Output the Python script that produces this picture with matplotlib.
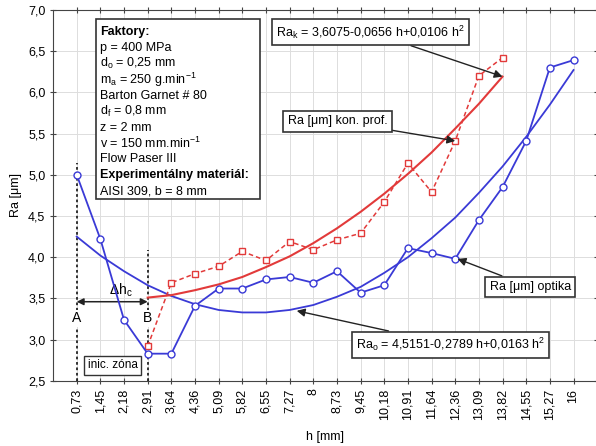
import matplotlib
matplotlib.use("Agg")
import matplotlib.pyplot as plt
from matplotlib.patches import Rectangle

plt.rcParams['font.family'] = ['Liberation Sans', 'DejaVu Sans']
plt.rcParams['mathtext.default'] = 'regular'

# categories on the x axis (h [mm])
h_labels = ['0,73', '1,45', '2,18', '2,91', '3,64', '4,36', '5,09', '5,82', '6,55', '7,27', '8',
            '8,73', '9,45', '10,18', '10,91', '11,64', '12,36', '13,09', '13,82', '14,55', '15,27', '16']

# Ra [um] optika (measured)
ra_optika = [5.00, 4.22, 3.24, 2.83, 2.83, 3.41, 3.62, 3.62, 3.73, 3.76, 3.69,
             3.83, 3.57, 3.66, 4.11, 4.05, 3.98, 4.45, 4.85, 5.41, 6.30, 6.39]

# Ra [um] kon. prof. (measured, from 2,91 to 13,82)
ra_kon = [2.92, 3.69, 3.80, 3.89, 4.07, 3.96, 4.19, 4.09, 4.21, 4.29, 4.67,
          5.14, 4.79, 5.41, 6.20, 6.42]

# fitted curves
ra_o_fit = [4.25, 4.02, 3.83, 3.66, 3.53, 3.43, 3.36, 3.33, 3.33, 3.36, 3.42,
            3.52, 3.64, 3.81, 4.00, 4.23, 4.48, 4.78, 5.10, 5.46, 5.85, 6.27]
ra_k_fit = [3.51, 3.54, 3.60, 3.67, 3.76, 3.88, 4.01, 4.17, 4.35, 4.55, 4.77,
            5.01, 5.27, 5.56, 5.86, 6.19]

yticks = [2.5, 3.0, 3.5, 4.0, 4.5, 5.0, 5.5, 6.0, 6.5, 7.0]

faktory = ['Faktory:', 'p = 400 MPa', 'd$_o$ = 0,25 mm', 'm$_a$ = 250 g.min$^{-1}$',
           'Barton Garnet # 80', 'd$_f$ = 0,8 mm', 'z = 2 mm', 'v = 150 mm.min$^{-1}$',
           'Flow Paser III', 'Experimentálny materiál:', 'AISI 309, b = 8 mm']
bold_lines = ['Faktory:', 'Experimentálny materiál:']

blue = '#3a3ad6'
red = '#e23a3a'

fig = plt.figure(figsize=(5.96, 4.46), dpi=100)
ax = fig.add_axes([0.089, 0.146, 0.913, 0.832])

x_all = list(range(len(h_labels)))
x_kon = x_all[3:3 + len(ra_kon)]

ax.plot(x_all, ra_o_fit, color=blue, lw=1.3, zorder=3)
ax.plot(x_kon, ra_k_fit, color=red, lw=1.5, zorder=3)
ax.plot(x_kon, ra_kon, color=red, lw=1.1, ls=(0, (3, 2)), marker='s', ms=5,
        mfc='white', mec=red, zorder=4)
ax.plot(x_all, ra_optika, color=blue, lw=1.3, marker='o', ms=5,
        mfc='white', mec=blue, zorder=4)

ax.set_xlim(-1, 22)
ax.set_ylim(2.5, 7.0)
ax.set_xticks(x_all)
ax.set_xticklabels(h_labels, rotation=90, fontsize=9)
ax.set_yticks(yticks)
ax.set_yticklabels([('%.1f' % v).replace('.', ',') for v in yticks], fontsize=9)
ax.tick_params(direction='inout', length=4, top=True, right=True, color='#444444')
ax.grid(True, color='#dddddd', lw=0.7)
ax.set_axisbelow(True)
for s in ax.spines.values():
    s.set_color('#444444')
ax.set_xlabel('h [mm]', fontsize=9, labelpad=8)
ax.set_ylabel('Ra [μm]', fontsize=9)

# initial zone markers
ax.plot([0, 0], [2.5, 5.14], color='#222222', ls=(0, (1.5, 1.5)), lw=1.3, zorder=2)
ax.plot([3, 3], [2.5, 4.09], color='#222222', ls=(0, (1.5, 1.5)), lw=1.3, zorder=2)
ax.annotate('', xy=(0, 3.46), xytext=(3, 3.46),
            arrowprops=dict(arrowstyle='<|-|>', color='#222222', lw=1.1,
                            mutation_scale=10, shrinkA=0, shrinkB=0))
ax.text(1.86, 3.60, r'$\Delta h_c$', fontsize=10, ha='center', va='center')
ax.text(0, 3.26, 'A', fontsize=10, ha='center', va='center', zorder=5,
        bbox=dict(fc='white', ec='none', pad=1))
ax.text(3, 3.26, 'B', fontsize=10, ha='center', va='center', zorder=5,
        bbox=dict(fc='white', ec='none', pad=1))
ax.text(1.52, 2.69, 'inic. zóna', fontsize=8.5, ha='center', va='center', zorder=5,
        bbox=dict(fc='white', ec='#333333', lw=1, pad=2.5))

# factors box
ax.add_patch(Rectangle((0.80, 4.70), 6.93, 2.19, fc='white', ec='#333333', lw=1.2, zorder=5))
for i, line in enumerate(faktory):
    ax.text(0.97, 6.73 - i * 0.193, line, fontsize=9, ha='left', va='center', zorder=6,
            fontweight='bold' if line in bold_lines else 'normal')

box = dict(boxstyle='square,pad=0.35', fc='white', ec='#333333', lw=1.2)
arrow = dict(arrowstyle='-|>', color='#222222', lw=1, mutation_scale=12, shrinkA=0, shrinkB=0)

ax.annotate('Ra$_k$ = 3,6075-0,0656 h+0,0106 h$^2$', xy=(18.0, 6.19), xytext=(12.42, 6.73),
            fontsize=9, ha='center', va='center', bbox=box, arrowprops=arrow, zorder=6)
ax.annotate('Ra [μm] kon. prof.', xy=(16.0, 5.41), xytext=(11.02, 5.65),
            fontsize=9, ha='center', va='center', bbox=box, arrowprops=arrow, zorder=6)
ax.annotate('Ra [μm] optika', xy=(16.1, 3.98), xytext=(19.18, 3.64),
            fontsize=9, ha='center', va='center', bbox=box, arrowprops=arrow, zorder=6)
ax.annotate('Ra$_o$ = 4,5151-0,2789 h+0,0163 h$^2$', xy=(9.3, 3.35), xytext=(15.8, 2.94),
            fontsize=9, ha='center', va='center', bbox=box, arrowprops=arrow, zorder=6)

fig.savefig('out.png', dpi=100)
